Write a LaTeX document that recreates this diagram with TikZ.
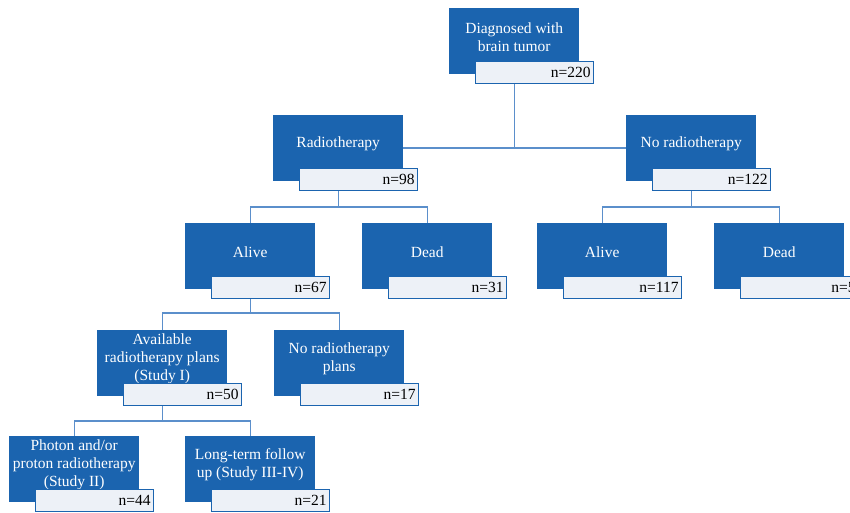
\documentclass[tikz,border=0pt]{standalone}
\usepackage{fontspec}
\setmainfont{Liberation Serif}
\definecolor{boxblue}{HTML}{1B64AF}
\definecolor{labfill}{HTML}{EDF1F7}
\definecolor{linkblue}{HTML}{5B8FCB}
\newcommand\stagebox[5]{%
  \node[bx] (#1) at (#2,#3) {};
  \node[txt] (#1t) at ([yshift=4pt]#1.center) {#4};
  \node[lab] (#1n) at (#2+26,#3+53) {#5};
}
\begin{document}
\begin{tikzpicture}[x=1pt,y=-1pt,
  bx/.style={fill=boxblue, draw=none, minimum width=130pt, minimum height=66pt, anchor=north west, inner sep=0pt},
  lab/.style={fill=labfill, draw=boxblue, line width=1pt, minimum width=118pt, minimum height=22pt, anchor=north west, inner sep=0pt, text width=112pt, align=right, font=\fontsize{15.5}{18}\selectfont},
  txt/.style={text=white, align=center, inner sep=0pt, font=\fontsize{15.5}{18}\selectfont},
  link/.style={draw=linkblue, line width=1.4pt}]
\useasboundingbox (0,0) rectangle (850,513);
\clip (0,0) rectangle (850,513);
\coordinate (m1) at (0,207);
\coordinate (m2) at (0,313);
\coordinate (m3) at (0,421);

\stagebox{top}{449}{8}{Diagnosed with\\brain tumor}{n=220}
\stagebox{rt}{273}{115}{Radiotherapy}{n=98}
\stagebox{nort}{626}{115}{No radiotherapy}{n=122}
\stagebox{aliveA}{185}{223}{Alive}{n=67}
\stagebox{deadA}{362}{223}{Dead}{n=31}
\stagebox{aliveB}{537}{223}{Alive}{n=117}
\stagebox{deadB}{714}{223}{Dead}{n=5}
\stagebox{avail}{97}{330}{Available\\radiotherapy plans\\(Study I)}{n=50}
\stagebox{noplan}{274}{330}{No radiotherapy\\plans}{n=17}
\stagebox{photon}{9}{436}{Photon and/or\\proton radiotherapy\\(Study II)}{n=44}
\stagebox{longterm}{185}{436}{Long-term follow\\up (Study III-IV)}{n=21}

\draw[link] (top.center |- topn.south) -- (top.center |- rt.east);
\draw[link] (rt.east) -- (nort.west);

\draw[link] (rt.center |- rtn.south) -- (rt.center |- m1);
\draw[link] (aliveA.north) |- (deadA.north |- m1) -- (deadA.north);

\draw[link] (nort.center |- nortn.south) -- (nort.center |- m1);
\draw[link] (aliveB.north) |- (deadB.north |- m1) -- (deadB.north);

\draw[link] (aliveA.center |- aliveAn.south) -- (aliveA.center |- m2);
\draw[link] (avail.north) |- (noplan.north |- m2) -- (noplan.north);

\draw[link] (avail.center |- availn.south) -- (avail.center |- m3);
\draw[link] (photon.north) |- (longterm.north |- m3) -- (longterm.north);
\end{tikzpicture}
\end{document}
